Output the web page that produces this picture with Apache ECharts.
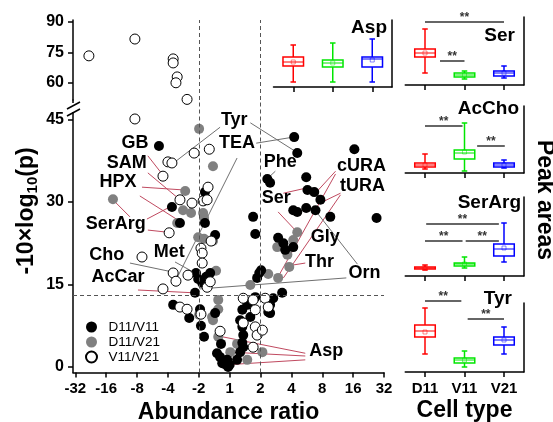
<!DOCTYPE html>
<html><head><meta charset="utf-8">
<script src="https://cdn.jsdelivr.net/npm/echarts@6/dist/echarts.min.js"></script>
<style>html,body{margin:0;padding:0;background:#fff}#c{width:553px;height:422px}</style>
</head><body><div id="c"></div>
<script>
const FONT = "'Liberation Sans', Arial, sans-serif";

// ---- volcano plot: x = log2(abundance ratio), y = -10*log10(p) ----
const xTickValues = [-5,-4,-3,-2,-1,0,1,2,3,4,5];
const xTickLabels = ['-32','-16','-8','-4','-2','1','2','4','8','16','32'];
const yTicksLower = [0,15,30,45];
const yTicksUpper = [60,75,90];
const seriesNames = ['D11/V11','D11/V21','V11/V21'];

const d11v11 = [[-2.29,40.2],[-0.80,31.8],[-1.87,29.1],[-1.61,26.2],[-0.80,26.2],[-0.47,24.0],[0.83,24.2],
 [-1.09,17.1],[-1.02,16.0],[-0.89,15.3],[-0.76,16.4],[-0.63,17.1],[-1.12,13.5],[0.96,17.1],[0.89,16.2],
 [0.83,12.7],[-1.83,11.3],[-1.31,8.9],[-0.96,10.5],[-0.93,7.5],[-0.83,5.5],[-0.28,4.2],[-0.41,2.5],
 [-0.31,1.8],[-0.24,0.7],[-0.08,1.3],[-0.05,0],[0.0,0.4],[-0.15,0.5],[0.41,10.4],[0.34,8.5],[0.41,7.3],[0.44,5.8],
 [0.41,4.4],[0.34,2.7],[0.24,1.3],[0.44,3.6],[1.02,17.6],[1.70,13.5],[1.41,12.5],[1.31,11.3],[1.25,10.0],
 [0.57,11.3],[0.67,9.1],[2.09,41.8],[2.19,38.9],[4.04,39.6],[1.22,34.2],[1.31,33.5],[2.48,34.5],[2.52,32.2],
 [2.74,31.8],[2.94,30.4],[2.06,28.5],[2.19,28.2],[2.48,28.9],[2.78,28.5],[3.26,27.3],[0.76,27.3],[1.57,23.5],
 [1.74,22.5],[2.06,21.8],[1.80,21.3],[4.76,27.1],[1.31,9.8],[-0.47,9.8]];

const d11v21 = [[-0.99,43.3],[-0.54,36.5],[-1.44,32.0],[-3.78,30.5],[-1.51,28.5],[-1.25,28.0],[-0.86,28.0],
 [-1.70,26.2],[-0.83,27.1],[-1.02,23.6],[-0.83,23.3],[-0.54,22.9],[-0.44,17.5],[1.25,16.9],[-0.37,12.2],
 [-0.99,9.5],[-0.37,10.5],[-0.54,8.5],[-0.37,5.5],[0.02,2.7],[0.24,4.2],[0.57,1.3],[0.67,14.9],[1.57,16.2],
 [1.93,18.2],[2.19,24.5],[2.06,23.1],[1.54,21.8],[1.87,20.4],[-0.57,9.1],[1.06,2.7]];

const v11v21High = [[-4.56,73.3],[-3.07,81.6],[-1.83,71.8],[-1.83,69.8],[-1.70,62.9],[-1.74,60.0],[-1.38,51.8]];
const v11v21 = [[-3.07,45.1],[-0.66,39.6],[-1.15,38.9],[-2.0,37.3],[-1.87,37.1],[-2.16,34.7],[-0.70,32.7],
 [-1.61,30.4],[-0.86,30.2],[-0.73,30.4],[-1.22,29.8],[-1.96,24.4],[-0.60,22.9],[-0.93,21.6],[-0.89,20.7],
 [-2.84,20.0],[-0.89,18.9],[-1.83,17.1],[-1.74,15.6],[-1.35,16.7],[-2.16,14.2],[-0.73,14.5],[-1.61,10.9],
 [-1.38,10.5],[-0.63,15.5],[0.44,12.5],[0.76,12.2],[-0.93,9.6],[-0.31,6.5],[0.83,10.4],[0.83,7.3],[0.89,5.8],
 [0.76,3.6],[1.15,12.5],[0.44,8.0],[1.06,6.7],[1.25,10.9]];

const thresholdRatio = [-1, 1];   // log2(1/2), log2(2)
const thresholdP = 13;

const labelNames = ['GB','SAM','HPX','SerArg','Cho','AcCar','Met','Tyr','TEA','Phe','Ser','cURA','tURA','Gly','Thr','Orn','Asp'];
const labelPos = [[-3.07,40.7],[-3.33,37.1],[-3.62,33.6],[-3.69,26.0],[-3.98,20.4],[-3.62,16.4],[-1.96,20.9],
 [0.15,44.9],[0.24,40.7],[1.64,37.3],[1.51,30.7],[4.27,36.5],[4.30,32.9],[3.10,23.6],[2.91,19.1],[4.37,17.1],[3.13,2.9]];

const leaderRed = [
 [[-2.65,38.4],[-2.19,35.1]], [[-2.65,35.3],[-1.67,30.7]], [[-2.84,32.7],[-1.51,32.2]], [[-2.91,31.1],[-1.67,26.7]],
 [[-3.78,30.4],[-3.23,27.3]], [[-2.68,26.9],[-1.87,29.3]], [[-2.65,24.9],[-2.0,24.5]], [[-2.97,14.0],[-1.19,13.5]],
 [[1.74,31.6],[2.45,32.5]], [[1.57,28.2],[2.19,24.5]], [[3.43,35.6],[2.81,31.8]], [[3.43,35.1],[1.57,16.4]],
 [[3.59,31.6],[3.00,30.0]], [[3.59,31.3],[1.74,16.2]], [[2.45,18.9],[2.0,18.5]],
 [[2.45,2.5],[-0.24,5.5]], [[2.45,2.0],[0.02,2.7]], [[2.45,1.3],[-0.11,0.4]]];
const leaderGray = [
 [[-3.23,18.9],[-1.87,17.3]], [[-1.77,19.1],[-1.19,17.3]], [[0.24,38.0],[-1.74,15.8]], [[-0.31,43.6],[-1.77,37.3]],
 [[0.67,44.4],[2.16,39.1]], [[0.86,40.7],[2.06,41.8]], [[1.48,35.6],[1.25,34.4]], [[4.14,18.7],[2.81,28.2]],
 [[3.78,16.2],[-0.96,14.2]]];

// ---- box plots: peak areas (arbitrary units) [min, Q1, median, Q3, max, mean] for D11, V11, V21 ----
const cellTypes = ['D11','V11','V21'];
const aspBox    = [[5,21,25,30,42,25],[5,20,24,27,44,24],[5,20,28,30,48,27]];
const serBox    = [[12,28,32,36,56,32],[6,8,10,12,14,10],[7,9,12,14,19,12]];
const acchoBox  = [[4,6,8,10,19,8],[2,14,20,23,50,21],[5,6,8,10,13,8]];
const serargBox = [[6,7,8,9,11,8],[8,10,12,13,19,12],[14,20,27,32,53,28]];
const tyrBox    = [[18,35,41,47,64,40],[5,9,12,14,21,12],[18,27,32,35,45,32]];
// significance bars [from, to, height]
const aspSig = [];
const serSig = [[1,3,63],[1.38,2.0,24]];
const acchoSig = [[1,1.95,47],[2.32,3.02,27]];
const serargSig = [[1.03,2.87,52],[1,1.95,35],[2.03,2.87,35]];
const tyrSig = [[1,1.92,71],[2.08,3.0,53]];

const boxColors = ['#ff0000','#00e600','#0000ff'];

const panels = [
  {name:'Asp', box:aspBox, sig:aspSig, grid:{left:273.5, top:20, width:118.5, height:67}, max:67, tx:387, ty:28},
  {name:'Ser', box:serBox, sig:serSig, grid:{left:405.25, top:17, width:118.5, height:68}, max:68, tx:515, ty:36},
  {name:'AcCho', box:acchoBox, sig:acchoSig, grid:{left:405.25, top:106, width:118.5, height:67}, max:67, tx:519, ty:109},
  {name:'SerArg', box:serargBox, sig:serargSig, grid:{left:405.25, top:197, width:118.5, height:79}, max:79, tx:521, ty:203},
  {name:'Tyr', box:tyrBox, sig:tyrSig, grid:{left:405.25, top:303, width:118.5, height:69}, max:69, tx:512, ty:299, labels:true}
];

const AX = {color:'#000', width:1.5};
const grids = [
  {left:73, top:100, width:311, height:272.5, outerBoundsMode:'none', containLabel:false},
  {left:73, top:20, width:311, height:80, outerBoundsMode:'none', containLabel:false}
];
const xAxes = [
  {gridIndex:0, type:'value', min:-5.075, max:5, axisLine:{onZero:false, lineStyle:AX}, splitLine:{show:false},
   axisTick:{customValues:xTickValues, length:5, lineStyle:AX},
   axisLabel:{customValues:xTickValues, formatter:v=>xTickLabels[xTickValues.indexOf(Math.round(v))],
     fontFamily:FONT, fontWeight:'bold', fontSize:15, color:'#000', margin:9},
   name:'Abundance ratio', nameLocation:'middle', nameGap:26,
   nameTextStyle:{fontFamily:FONT, fontWeight:'bold', fontSize:23, color:'#000'}},
  {gridIndex:1, type:'value', min:-5.075, max:5, show:false}
];
const yAxes = [
  {gridIndex:0, type:'value', min:-1, max:48.55, axisLine:{onZero:false, lineStyle:AX}, splitLine:{show:false},
   axisTick:{customValues:yTicksLower, length:5, lineStyle:AX},
   axisLabel:{customValues:yTicksLower, fontFamily:FONT, fontWeight:'bold', fontSize:16, color:'#000', margin:9}},
  {gridIndex:1, type:'value', min:51.5, max:91, axisLine:{onZero:false, lineStyle:AX}, splitLine:{show:false},
   axisTick:{customValues:yTicksUpper, length:5, lineStyle:AX},
   axisLabel:{customValues:yTicksUpper, fontFamily:FONT, fontWeight:'bold', fontSize:16, color:'#000', margin:9}}
];

const dashStyle = {color:'#555', width:1, type:[4,3]};
const series = [];
series.push({type:'lines', coordinateSystem:'cartesian2d', xAxisIndex:0, yAxisIndex:0, z:1, silent:true,
  data: leaderRed.map(c=>({coords:c})), lineStyle:{color:'#c04a60', width:1, opacity:1}});
series.push({type:'lines', coordinateSystem:'cartesian2d', xAxisIndex:0, yAxisIndex:0, z:1, silent:true,
  data: leaderGray.map(c=>({coords:c})), lineStyle:{color:'#707070', width:1, opacity:1}});
series.push({name:seriesNames[1], type:'scatter', xAxisIndex:0, yAxisIndex:0, z:2, symbolSize:10, data:d11v21,
  itemStyle:{color:'#808080', opacity:1}});
series.push({name:seriesNames[0], type:'scatter', xAxisIndex:0, yAxisIndex:0, z:2, symbolSize:10, data:d11v11,
  itemStyle:{color:'#000', opacity:1},
  markLine:{silent:true, symbol:'none', label:{show:false}, lineStyle:dashStyle, animation:false,
    data: thresholdRatio.map(v=>({xAxis:v})).concat([{yAxis:thresholdP}])}});
series.push({name:seriesNames[2], type:'scatter', xAxisIndex:0, yAxisIndex:0, z:2, symbolSize:10, data:v11v21,
  itemStyle:{color:'#fff', borderColor:'#000', borderWidth:1, opacity:1}});
series.push({name:seriesNames[2], type:'scatter', xAxisIndex:1, yAxisIndex:1, z:2, symbolSize:10, data:v11v21High,
  itemStyle:{color:'#fff', borderColor:'#000', borderWidth:1, opacity:1},
  markLine:{silent:true, symbol:'none', label:{show:false}, lineStyle:dashStyle, animation:false,
    data: thresholdRatio.map(v=>({xAxis:v}))}});
series.push({name:'labels', type:'scatter', xAxisIndex:0, yAxisIndex:0, z:4, silent:true, symbolSize:1,
  itemStyle:{color:'rgba(0,0,0,0)'},
  data: labelPos.map((p,i)=>({value:p, name:labelNames[i]})),
  label:{show:true, position:'inside', formatter:p=>p.name, fontFamily:FONT, fontWeight:'bold', fontSize:18,
    color:'#000', opacity:1, textBorderWidth:0, textBorderColor:'transparent'}});

function boxRender(params, api) {
  const x = api.value(0);
  const v = [1,2,3,4,5,6].map(i=>api.value(i));
  const pMin = api.coord([x,v[0]]), pQ1 = api.coord([x,v[1]]), pMd = api.coord([x,v[2]]),
        pQ3 = api.coord([x,v[3]]), pMx = api.coord([x,v[4]]), pMean = api.coord([x,v[5]]);
  const bw = api.size([0.52,0])[0], cw = api.size([0.14,0])[0];
  const cx = pMd[0];
  const col = boxColors[params.dataIndex];
  const st = {stroke:col, lineWidth:1.5, fill:null};
  return {type:'group', children:[
    {type:'line', shape:{x1:cx,y1:pMx[1],x2:cx,y2:pQ3[1]}, style:st},
    {type:'line', shape:{x1:cx,y1:pQ1[1],x2:cx,y2:pMin[1]}, style:st},
    {type:'line', shape:{x1:cx-cw/2,y1:pMx[1],x2:cx+cw/2,y2:pMx[1]}, style:st},
    {type:'line', shape:{x1:cx-cw/2,y1:pMin[1],x2:cx+cw/2,y2:pMin[1]}, style:st},
    {type:'rect', shape:{x:cx-bw/2,y:pQ3[1],width:bw,height:Math.max(pQ1[1]-pQ3[1],1)}, style:{stroke:col,lineWidth:1.5,fill:'none'}},
    {type:'line', shape:{x1:cx-bw/2,y1:pMd[1],x2:cx+bw/2,y2:pMd[1]}, style:{stroke:col,lineWidth:1}},
    {type:'rect', shape:{x:cx-2,y:pMean[1]-2,width:4,height:4}, style:{stroke:col,lineWidth:0.8,fill:'none',opacity:0.6}}
  ]};
}
function sigRender(params, api) {
  const p1 = api.coord([api.value(0), api.value(2)]);
  const p2 = api.coord([api.value(1), api.value(2)]);
  return {type:'group', children:[
    {type:'line', shape:{x1:p1[0],y1:p1[1],x2:p2[0],y2:p2[1]}, style:{stroke:'#333',lineWidth:1.5}},
    {type:'text', x:(p1[0]+p2[0])/2, y:p1[1]-4, style:{text:'**', fill:'#333', font:'bold 12px '+FONT, align:'center', verticalAlign:'middle'}}
  ]};
}

const graphic = [];
panels.forEach((pn, k) => {
  const gi = grids.length;
  grids.push(Object.assign({outerBoundsMode:'none', containLabel:false}, pn.grid));
  xAxes.push({gridIndex:gi, type:'value', min:0.5, max:3.5, splitLine:{show:false},
    axisLine:{onZero:false, lineStyle:AX}, axisTick:{customValues:[1,2,3], length:5, lineStyle:AX},
    axisLabel:{show:!!pn.labels, customValues:[1,2,3], formatter:v=>cellTypes[Math.round(v)-1],
      fontFamily:FONT, fontWeight:'bold', fontSize:15, color:'#000', margin:9},
    name: pn.labels ? 'Cell type' : '', nameLocation:'middle', nameGap:27,
    nameTextStyle:{fontFamily:FONT, fontWeight:'bold', fontSize:23, color:'#000'}});
  yAxes.push({gridIndex:gi, type:'value', position:'right', min:0, max:pn.max, splitLine:{show:false},
    axisLine:{show:true, onZero:false, lineStyle:AX}, axisTick:{show:false}, axisLabel:{show:false}});
  series.push({type:'custom', xAxisIndex:gi, yAxisIndex:gi, silent:true, renderItem:boxRender, clip:false,
    encode:{x:0, y:[1,2,3,4,5]},
    data: pn.box.map((b,i)=>[i+1].concat(b))});
  if (pn.sig.length) series.push({type:'custom', xAxisIndex:gi, yAxisIndex:gi, silent:true, renderItem:sigRender, clip:false,
    encode:{x:[0,1], y:2}, data: pn.sig});
  graphic.push({type:'text', x:pn.tx, y:pn.ty, silent:true,
    style:{text:pn.name, font:'bold 19px '+FONT, fill:'#000', align:'right', verticalAlign:'middle'}});
});

graphic.push({type:'text', x:27, y:211, rotation:Math.PI/2, silent:true,
  style:{text:'{a|-10×log}{s|10}{a|(p)}', align:'center', verticalAlign:'middle', fill:'#000',
    rich:{a:{fontFamily:FONT, fontWeight:'bold', fontSize:23, lineHeight:26},
          s:{fontFamily:FONT, fontWeight:'bold', fontSize:15, lineHeight:14, verticalAlign:'bottom'}}}});
graphic.push({type:'text', x:544, y:200, rotation:-Math.PI/2, silent:true,
  style:{text:'Peak areas', font:'bold 23px '+FONT, fill:'#000', align:'center', verticalAlign:'middle'}});
// axis break marks
graphic.push({type:'rect', shape:{x:69, y:103, width:8, height:9}, style:{fill:'#fff'}, z:100, silent:true});
graphic.push({type:'line', shape:{x1:67,y1:109,x2:80,y2:102}, style:{stroke:'#000', lineWidth:1.5}, z:101, silent:true});
graphic.push({type:'line', shape:{x1:67,y1:116,x2:80,y2:109}, style:{stroke:'#000', lineWidth:1.5}, z:101, silent:true});

const chart = echarts.init(document.getElementById('c'));
chart.setOption({
  animation:false,
  backgroundColor:'#fff',
  grid: grids, xAxis: xAxes, yAxis: yAxes, series: series, graphic: graphic,
  legend:{data:seriesNames, orient:'vertical', left:80, top:315, itemWidth:24, itemHeight:11, itemGap:1,
    icon:'circle', textStyle:{fontFamily:FONT, fontSize:13.5, color:'#000', lineHeight:14}}
});
</script></body></html>
